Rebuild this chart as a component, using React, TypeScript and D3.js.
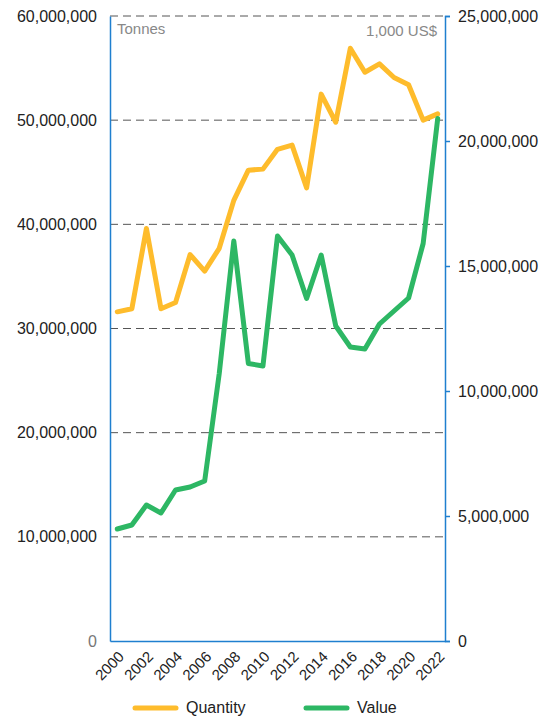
import React, { useRef, useEffect } from 'react';
import * as d3 from 'd3';

// years on the x axis
const years = d3.range(2000, 2023).map(String);

// Quantity (tonnes), left axis
const quantity = [
  31.6, 31.9, 39.6, 31.9, 32.5, 37.1, 35.5, 37.7, 42.3, 45.2, 45.3, 47.2,
  47.6, 43.5, 52.5, 49.8, 56.9, 54.6, 55.4, 54.1, 53.4, 50.0, 50.6,
].map((v) => v * 1e6);

// Value (1,000 US$), right axis
const value = [
  4.48, 4.64, 5.44, 5.12, 6.04, 6.16, 6.4, 10.7, 16.0, 11.1, 11.0, 16.2,
  15.44, 13.7, 15.44, 12.6, 11.76, 11.68, 12.68, 13.2, 13.72, 15.9, 20.9,
].map((v) => v * 1e6);

const leftTicks = [0, 10e6, 20e6, 30e6, 40e6, 50e6, 60e6];
const rightTicks = [0, 5e6, 10e6, 15e6, 20e6, 25e6];
const xTickYears = years.filter((_, i) => i % 2 === 0);

const W = 550;
const H = 726;

const App = () => {
  const svgRef = useRef(null);

  useEffect(() => {
    const svg = d3.select(svgRef.current);
    svg.selectAll('*').remove();

    const margin = { top: 16, right: 105, bottom: 85, left: 110 };
    const width = W - margin.left - margin.right;
    const height = H - margin.top - margin.bottom;
    const font = 'Liberation Sans, Arial, sans-serif';
    const axisBlue = '#1f7fcf';

    const chart = svg.append('g').attr('transform', `translate(${margin.left},${margin.top})`);

    const x = d3.scaleBand().domain(years).range([0, width]);
    const cx = (d) => x(d) + x.bandwidth() / 2;
    const yL = d3.scaleLinear().domain([0, 60e6]).range([height, 0]);
    const yR = d3.scaleLinear().domain([0, 25e6]).range([height, 0]);
    const fmt = d3.format(',');

    // grid lines
    chart.append('g')
      .selectAll('line')
      .data(leftTicks.filter((t) => t > 0))
      .enter()
      .append('line')
      .attr('x1', 0)
      .attr('x2', width)
      .attr('y1', (d) => yL(d))
      .attr('y2', (d) => yL(d))
      .attr('stroke', '#555')
      .attr('stroke-width', 1)
      .attr('stroke-dasharray', '8,5');

    // left axis
    const left = chart.append('g')
      .call(d3.axisLeft(yL).tickValues(leftTicks).tickSize(0).tickPadding(13).tickFormat(fmt));
    left.select('.domain').attr('stroke', axisBlue).attr('stroke-width', 1.5);
    left.selectAll('text')
      .attr('font-family', font)
      .attr('font-size', 16)
      .attr('fill', (d) => (d === 0 ? '#777' : '#222'));

    // right axis
    const right = chart.append('g')
      .attr('transform', `translate(${width},0)`)
      .call(d3.axisRight(yR).tickValues(rightTicks).tickSize(5).tickPadding(8).tickFormat(fmt));
    right.select('.domain').attr('stroke', axisBlue).attr('stroke-width', 1.5);
    right.selectAll('.tick line').attr('stroke', axisBlue).attr('stroke-width', 1.5);
    right.selectAll('text')
      .attr('font-family', font)
      .attr('font-size', 16)
      .attr('fill', '#222');

    // bottom axis
    const bottom = chart.append('g')
      .attr('transform', `translate(0,${height})`)
      .call(d3.axisBottom(x).tickValues(xTickYears).tickSize(0));
    bottom.select('.domain').attr('stroke', axisBlue).attr('stroke-width', 1.5);
    bottom.selectAll('text')
      .attr('font-family', font)
      .attr('font-size', 15)
      .attr('fill', '#222')
      .attr('text-anchor', 'end')
      .attr('x', 0)
      .attr('y', 0)
      .attr('dy', '0.35em')
      .attr('transform', 'translate(4,13) rotate(-45)');

    // unit labels
    chart.append('text')
      .attr('x', 7)
      .attr('y', 18)
      .attr('font-family', font)
      .attr('font-size', 15)
      .attr('fill', '#888')
      .text('Tonnes');
    chart.append('text')
      .attr('x', width - 8)
      .attr('y', 20)
      .attr('text-anchor', 'end')
      .attr('font-family', font)
      .attr('font-size', 15)
      .attr('fill', '#888')
      .text('1,000 US$');

    const series = [
      { data: quantity, y: yL, color: '#FEBC2C', label: 'Quantity' },
      { data: value, y: yR, color: '#2DB764', label: 'Value' },
    ];

    series.forEach((s) => {
      const line = d3.line()
        .x((_, i) => cx(years[i]))
        .y((d) => s.y(d));
      chart.append('path')
        .datum(s.data)
        .attr('fill', 'none')
        .attr('stroke', s.color)
        .attr('stroke-width', 5)
        .attr('stroke-linejoin', 'round')
        .attr('stroke-linecap', 'round')
        .attr('d', line);
    });

    // legend
    const legend = svg.append('g').attr('transform', 'translate(0,708)');
    series.forEach((s, i) => {
      const g = legend.append('g').attr('transform', `translate(${135 + i * 171},0)`);
      g.append('line')
        .attr('x1', 0)
        .attr('x2', 41)
        .attr('stroke', s.color)
        .attr('stroke-width', 5)
        .attr('stroke-linecap', 'round');
      g.append('text')
        .attr('x', 51)
        .attr('y', 5)
        .attr('font-family', font)
        .attr('font-size', 16)
        .attr('fill', '#222')
        .text(s.label);
    });
  }, []);

  return (
    <svg
      ref={svgRef}
      width={W}
      height={H}
      style={{ position: 'absolute', left: 0, top: 0, background: '#fff' }}
    />
  );
};

export default App;
